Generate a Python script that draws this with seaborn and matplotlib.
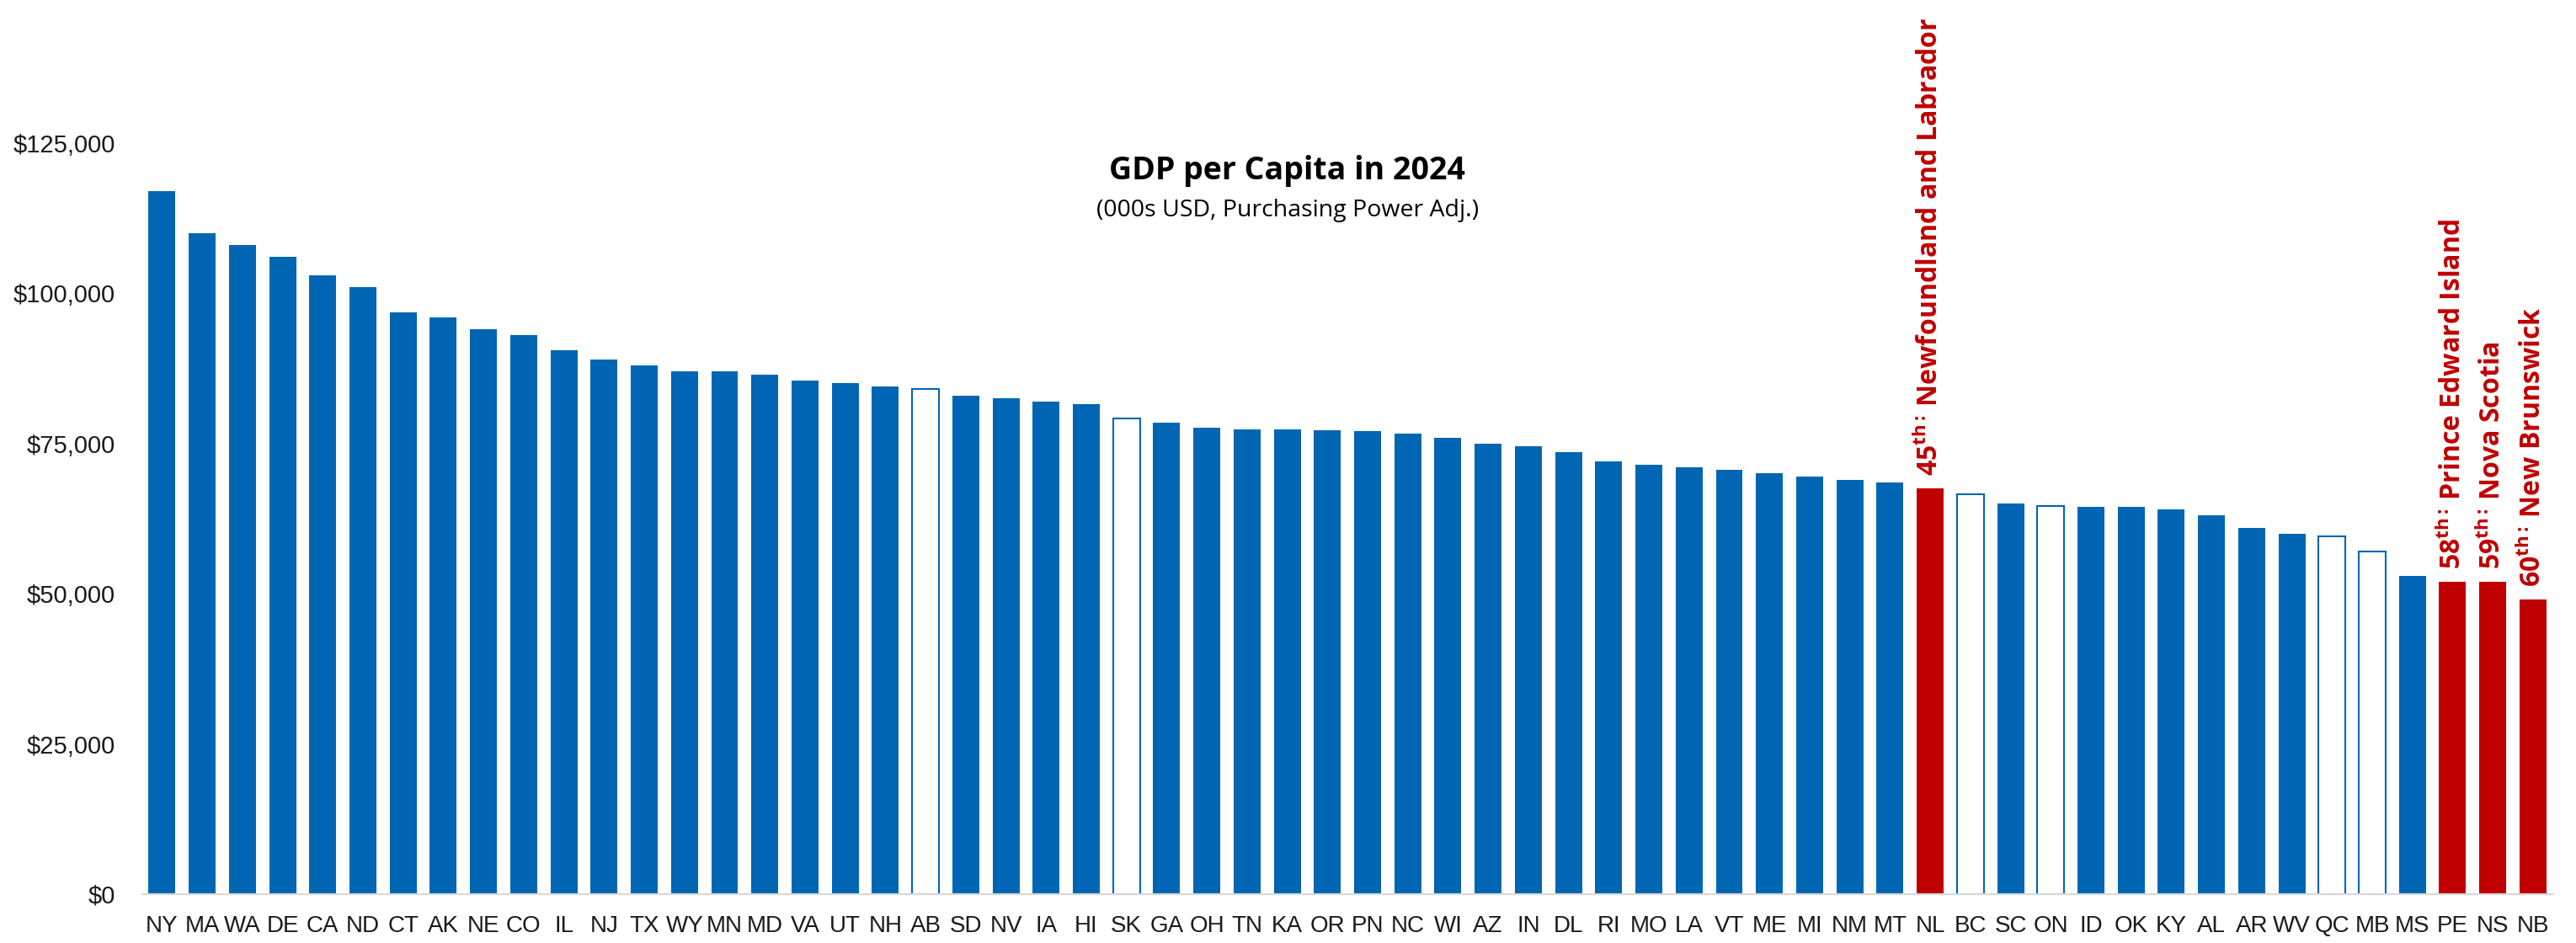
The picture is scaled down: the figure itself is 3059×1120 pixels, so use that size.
import matplotlib
matplotlib.use("Agg")
import matplotlib.pyplot as plt
import matplotlib.ticker as mticker
import seaborn as sns
import pandas as pd

# GDP per capita, 2024 (USD, PPP-adjusted), ranked high to low
codes = ["NY", "MA", "WA", "DE", "CA", "ND", "CT", "AK", "NE", "CO",
         "IL", "NJ", "TX", "WY", "MN", "MD", "VA", "UT", "NH", "AB",
         "SD", "NV", "IA", "HI", "SK", "GA", "OH", "TN", "KA", "OR",
         "PN", "NC", "WI", "AZ", "IN", "DL", "RI", "MO", "LA", "VT",
         "ME", "MI", "NM", "MT", "NL", "BC", "SC", "ON", "ID", "OK",
         "KY", "AL", "AR", "WV", "QC", "MB", "MS", "PE", "NS", "NB"]
gdp = [117000, 110000, 108000, 106000, 103000, 101000, 96800, 96000, 94000, 93000,
       90500, 89000, 88000, 87000, 87000, 86500, 85500, 85000, 84500, 84100,
       83000, 82500, 82000, 81500, 79100, 78500, 77600, 77400, 77300, 77200,
       77000, 76600, 76000, 75000, 74500, 73500, 72000, 71500, 71000, 70600,
       70000, 69500, 69000, 68500, 67500, 66600, 65000, 64600, 64500, 64500,
       64000, 63000, 61000, 60000, 59600, 57000, 53000, 52000, 52000, 49000]

# Canadian provinces drawn as outlines, Atlantic provinces highlighted
provinces = ["AB", "SK", "BC", "ON", "QC", "MB"]
atlantic = ["NL", "PE", "NS", "NB"]
atlantic_rank = ["45", "58", "59", "60"]
atlantic_name = ["Newfoundland and Labrador", "Prince Edward Island",
                 "Nova Scotia", "New Brunswick"]

y_ticks = [0, 25000, 50000, 75000, 100000, 125000]

BLUE = "#0066B3"
RED = "#C00000"

def group_of(code):
    if code in atlantic:
        return "atlantic"
    if code in provinces:
        return "province"
    return "state"

df = pd.DataFrame({"code": codes, "gdp": gdp})
df["group"] = df["code"].map(group_of)

sns.set_theme(style="white")
plt.rcParams["font.family"] = ["Open Sans", "DejaVu Sans"]
plt.rcParams["mathtext.fontset"] = "custom"
plt.rcParams["mathtext.rm"] = "Open Sans:bold"
plt.rcParams["mathtext.it"] = "Open Sans:bold"
plt.rcParams["mathtext.bf"] = "Open Sans:bold"

fig = plt.figure(figsize=(30.59, 11.2), dpi=100)
ax = fig.add_axes([0.0551, 0.05179, 0.9360, 0.94821])

sns.barplot(data=df, x="code", y="gdp", hue="group",
            palette={"state": BLUE, "province": "white", "atlantic": RED},
            order=codes, dodge=False, width=0.67, linewidth=0,
            saturation=1, legend=False, ax=ax)

# outline style for the Canadian provinces
for patch in ax.patches:
    fc = patch.get_facecolor()
    if fc[0] > 0.9 and fc[1] > 0.9 and fc[2] > 0.9:
        patch.set_edgecolor(BLUE)
        patch.set_linewidth(1.5)

ax.set_xlim(-0.5, len(codes) - 0.5)
ax.set_ylim(0, 148800)
ax.set_yticks(y_ticks)
ax.yaxis.set_major_formatter(mticker.FuncFormatter(lambda v, p: f"${v:,.0f}"))
ax.set_xlabel("")
ax.set_ylabel("")

for s in ["top", "right", "left"]:
    ax.spines[s].set_visible(False)
ax.spines["bottom"].set_color("#D9D9D9")
ax.spines["bottom"].set_linewidth(1.6)

ax.tick_params(axis="both", length=0)
ax.tick_params(axis="y", pad=23)
ax.tick_params(axis="x", pad=18)
for lab in ax.get_yticklabels():
    lab.set_family(["Liberation Sans", "DejaVu Sans"])
    lab.set_fontsize(21)
    lab.set_color("#1a1a1a")
for lab in ax.get_xticklabels():
    lab.set_family(["Liberation Sans Narrow", "Liberation Sans", "DejaVu Sans"])
    lab.set_fontsize(20)
    lab.set_color("#1a1a1a")

# rank labels above the Atlantic provinces
for code, rank, name in zip(atlantic, atlantic_rank, atlantic_name):
    i = codes.index(code)
    ax.annotate(rf"{rank}$^{{\rm th:}}\,${name}", xy=(i, gdp[i]),
                xytext=(0, 11), textcoords="offset points",
                rotation=90, ha="center", va="bottom",
                color=RED, fontsize=23, fontweight="bold",
                family=["Open Sans", "DejaVu Sans"])

fig.text(0.4998, 0.8098, "GDP per Capita in 2024", ha="center", va="baseline",
         fontsize=27, fontweight="bold", color="black")
fig.text(0.4998, 0.7708, "(000s USD, Purchasing Power Adj.)", ha="center",
         va="baseline", fontsize=20.5, color="black")

fig.savefig("out.png", dpi=100)
